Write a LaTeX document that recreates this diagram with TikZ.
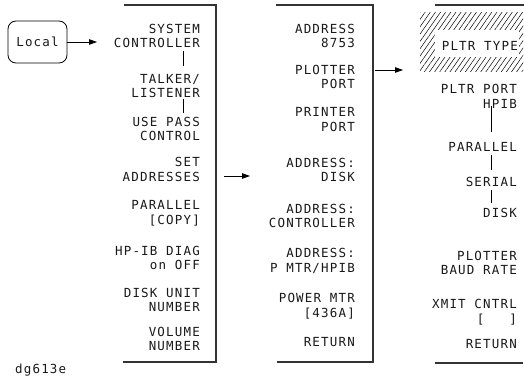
\documentclass[tikz,border=0pt]{standalone}
\usepackage{fontspec}
\newfontfamily\hp[LetterSpace=9.4]{DejaVu Sans Mono}
\usetikzlibrary{arrows.meta,patterns.meta}
\begin{document}
\begin{tikzpicture}[x=1pt,y=-1pt,
  txt/.style={font=\hp\fontsize{12.5}{14.8}\selectfont, text=black!90},
  lbl/.style={txt, align=right, inner sep=0pt, anchor=east},
  panel/.style={line width=1.1pt, draw=black!80},
  conn/.style={line width=0.8pt},
  arr/.style={line width=0.8pt, -{Triangle[length=8pt,width=5.5pt]}}]
\useasboundingbox (0,0) rectangle (524,385);
% Local key
\node[draw, txt, line width=0.8pt, rounded corners=8pt, minimum width=59pt, minimum height=42pt,
  inner sep=0pt] (local) at (37.5,42) {Local};
\coordinate (localend) at (97,42);
\draw[arr] (local.east) -- (localend);
% panel 1
\draw[panel] (124,5) -- (216,5) -- (216,362) -- (123,362);
\node[lbl] (sc) at (200,36) {SYSTEM\\CONTROLLER};
\node[lbl] (tl) at (200,86) {TALKER/\\LISTENER};
\node[lbl] (up) at (200,129) {USE PASS\\CONTROL};
\node[lbl] (sa) at (200,169.5) {SET\\ADDRESSES};
\node[lbl] (pc) at (200,213.5) {PARALLEL\\{}[COPY]};
\node[lbl] (hd) at (200,258) {HP-IB DIAG\\on OFF};
\node[lbl] (du) at (200,300) {DISK UNIT\\NUMBER};
\node[lbl] (vn) at (200,339) {VOLUME\\NUMBER};
\draw[conn] (183,51) -- (183,66);
\draw[conn] (183,99) -- (183,113);
\coordinate (sastart) at (224,176);
\coordinate (saend) at (250,176);
\draw[arr] (sastart) -- (saend);
% panel 2
\draw[panel] (276,5) -- (373,5) -- (373,362) -- (277,362);
\node[lbl] (a8) at (355,36) {ADDRESS\\8753};
\node[lbl] (pp) at (355,77) {PLOTTER\\PORT};
\node[lbl] (pr) at (355,119.5) {PRINTER\\PORT};
\node[lbl] (ad) at (355,170) {ADDRESS:\\DISK};
\node[lbl] (ac) at (355,216) {ADDRESS:\\CONTROLLER};
\node[lbl] (am) at (355,261) {ADDRESS:\\P MTR/HPIB};
\node[lbl] (pm) at (355,306) {POWER MTR\\{}[436A]};
\node[lbl] (r2) at (355,342) {RETURN};
\coordinate (ppstart) at (375,70);
\coordinate (ppend) at (403,70);
\draw[arr] (ppstart) -- (ppend);
% panel 3
\draw[panel] (435,5) -- (524,5);
\draw[panel] (435,363) -- (523,363);
\fill[pattern={Lines[angle=55,distance=4.2pt,line width=0.5pt]}] (420,13) rectangle (523,72);
\fill[white] (435,30) rectangle (519,57);
\node[lbl] (pt) at (518,46) {PLTR TYPE};
\node[lbl] (ph) at (517,96.5) {PLTR PORT\\HPIB};
\node[lbl] (pa) at (517,147) {PARALLEL};
\node[lbl] (se) at (517,182) {SERIAL};
\node[lbl] (di) at (517,213) {DISK};
\node[lbl] (pb) at (517,263) {PLOTTER\\BAUD RATE};
\node[lbl] (xc) at (517,312.5) {XMIT CNTRL\\{}[\hphantom{000}]};
\node[lbl] (r3) at (517,344) {RETURN};
\draw[conn] (491,106) -- (491,132);
\draw[conn] (491,155) -- (491,170);
\draw[conn] (491,190) -- (491,203);
% figure id
\node[txt, inner sep=0pt, anchor=west] (id) at (15,370) {dg613e};
\end{tikzpicture}
\end{document}
